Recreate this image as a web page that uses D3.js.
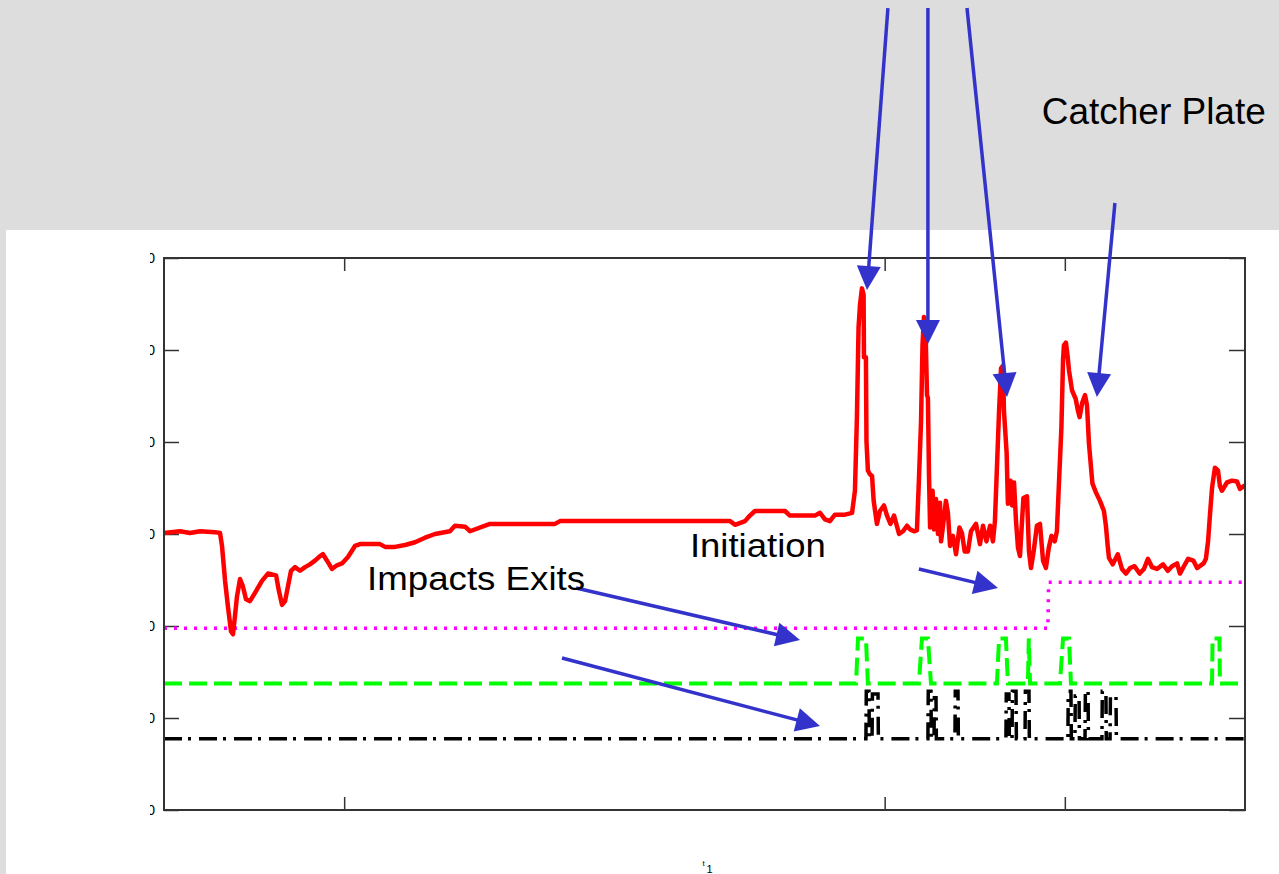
<!DOCTYPE html>
<html>
<head>
<meta charset="utf-8">
<script src="https://cdn.jsdelivr.net/npm/d3@7"></script>
<style>
  body { margin: 0; background: #dddddd; }
  svg { display: block; font-family: "Liberation Sans", Arial, sans-serif; }
</style>
</head>
<body>
<script>
// signal traces (x: time units, y: amplitude units)
var redSignal = [
  [0,30.1],[0.89,30.3],[1.44,30.1],[2.0,30.3],[2.83,30.2],[3.11,30.1],[3.22,28.7],[3.39,24.9],
  [3.55,22.1],[3.72,19.4],[3.83,19.1],[3.94,21.1],[4.05,23.2],[4.22,25.1],[4.38,24.3],[4.55,22.9],
  [4.77,22.7],[5.05,23.6],[5.44,24.9],[5.77,25.7],[6.22,25.5],[6.38,23.8],[6.55,22.3],[6.72,22.7],
  [6.88,24.3],[7.05,26.0],[7.27,26.4],[7.55,26.0],[7.83,26.4],[8.1,26.7],[8.38,27.1],[8.66,27.6],
  [8.82,27.8],[9.05,27.1],[9.32,26.2],[9.6,26.6],[9.88,26.8],[10.21,27.5],[10.6,28.7],[10.88,28.9],
  [11.99,28.9],[12.27,28.6],[12.82,28.6],[13.38,28.8],[13.93,29.1],[14.49,29.6],[15.04,30.0],
  [15.87,30.3],[16.15,30.9],[16.71,30.8],[16.98,30.3],[18.09,31.1],[21.7,31.1],[21.98,31.4],
  [31.42,31.4],[31.69,31.0],[32.25,31.4],[32.52,32.0],[32.8,32.5],[34.47,32.5],[34.74,32.0],
  [36.13,32.0],[36.41,32.3],[36.69,31.6],[36.96,31.4],[37.24,32.1],[37.8,32.1],[38.19,32.3],
  [38.35,34.7],[38.46,42.7],[38.55,52.4],[38.63,54.9],[38.74,56.7],[38.83,56.0],[38.85,49.2],
  [38.96,49.2],[38.99,40.1],[39.07,36.9],[39.18,36.5],[39.3,36.3],[39.39,33.6],[39.57,31.1],
  [39.74,32.5],[39.96,33.1],[40.13,32.0],[40.32,31.1],[40.52,32.0],[40.8,30.0],[41.02,30.3],
  [41.24,30.9],[41.41,30.5],[41.63,30.3],[41.79,30.4],[41.9,35.8],[42.02,42.3],[42.1,50.5],
  [42.18,53.6],[42.27,52.1],[42.35,45.1],[42.4,44.8],[42.46,36.5],[42.52,30.7],[42.66,34.7],
  [42.74,30.5],[42.85,33.8],[42.96,30.0],[43.07,33.4],[43.13,29.2],[43.24,30.9],[43.4,33.6],
  [43.51,32.3],[43.63,28.7],[43.79,29.8],[43.96,27.8],[44.15,30.7],[44.29,30.1],[44.44,28.1],
  [44.62,28.1],[44.79,30.3],[45.07,31.1],[45.29,28.9],[45.46,30.9],[45.65,29.2],[45.85,30.9],
  [46.01,29.2],[46.12,31.4],[46.21,36.1],[46.35,43.4],[46.46,48.0],[46.57,48.3],[46.62,43.4],
  [46.77,38.8],[46.84,33.3],[46.99,35.8],[47.07,33.1],[47.18,35.6],[47.29,31.4],[47.4,28.5],
  [47.51,27.6],[47.7,33.9],[47.9,34.1],[47.95,31.4],[48.01,28.1],[48.12,26.3],[48.27,28.1],
  [48.45,30.9],[48.62,31.1],[48.79,27.1],[48.95,26.3],[49.11,28.5],[49.26,29.8],[49.44,29.2],
  [49.56,30.3],[49.68,35.8],[49.81,41.6],[49.9,48.9],[49.95,50.5],[50.06,50.8],[50.15,49.4],
  [50.23,47.8],[50.4,45.6],[50.6,44.7],[50.73,43.4],[50.82,42.7],[50.97,44.3],[51.12,45.1],
  [51.23,44.0],[51.34,39.8],[51.53,35.5],[51.73,34.5],[51.95,33.6],[52.17,32.5],[52.28,30.9],
  [52.38,28.7],[52.45,27.4],[52.66,26.7],[52.94,27.8],[53.17,26.2],[53.39,25.7],[53.62,26.3],
  [53.87,26.5],[54.15,25.7],[54.39,26.2],[54.61,27.3],[54.84,26.4],[55.11,26.2],[55.45,26.7],
  [55.72,26.0],[55.95,26.5],[56.23,26.8],[56.39,25.7],[56.61,26.5],[56.84,27.3],[57.14,27.1],
  [57.34,26.3],[57.7,26.8],[57.83,27.3],[57.95,29.2],[58.06,32.2],[58.17,35.0],[58.33,37.2],
  [58.5,36.9],[58.61,35.2],[58.72,34.7],[59.0,35.6],[59.28,35.8],[59.56,35.7],[59.72,34.9],[60,35.3]
];

var magentaSignal = [[0,19.75],[49.06,19.75],[49.1,24.75],[60,24.75]];

var greenSignal = [
  [0,13.75],[38.41,13.75],[38.52,18.65],[38.96,18.65],[39.07,13.75],
  [41.9,13.75],[42.07,18.65],[42.4,18.65],[42.57,13.75],
  [46.23,13.75],[46.35,18.65],[46.73,18.65],[46.84,13.75],
  [47.95,13.75],[48.0,18.65],[48.07,13.75],
  [49.73,13.75],[49.9,18.65],[50.23,18.65],[50.34,13.75],
  [58.17,13.75],[58.2,18.65],[58.58,18.65],[58.61,13.75],[60,13.75]
];

var blackSignal = [
  [0,7.75],[38.96,7.75],[38.98,12.9],[39.13,12.9],[39.15,7.75],[39.3,7.75],[39.32,12.6],[39.63,12.6],
  [39.65,7.75],
  [42.4,7.75],[42.42,12.9],[42.57,12.9],[42.59,7.75],[42.74,7.75],[42.76,12.2],[42.85,12.2],[42.87,7.75],
  [43.9,7.75],[43.92,12.9],[44.07,12.9],[44.09,7.75],
  [46.73,7.75],[46.75,12.6],[46.9,12.6],[46.92,7.75],[47.07,7.75],[47.09,12.9],[47.29,12.9],[47.31,7.75],
  [47.79,7.75],[47.81,12.9],[48.01,12.9],[48.03,7.75],
  [50.17,7.75],[50.19,12.9],[50.34,12.9],[50.36,7.75],[50.56,7.75],[50.58,12.4],[50.79,12.4],[50.81,7.75],
  [51.12,7.75],[51.14,12.9],[51.29,12.9],[51.31,7.75],
  [52.06,7.75],[52.08,12.9],[52.28,12.9],[52.3,7.75],[52.51,7.75],[52.53,12.3],[52.84,12.3],[52.86,7.75],
  [60,7.75]
];

var yTicks = [0, 10, 20, 30, 40, 50, 60];
var xTicks = [10, 40, 50];
var yTickLabels = ["0", "0", "0", "0", "0", "0", "0"];

// annotations: text + arrow [tail, tip] in data units
var labels = [
  {text: "Catcher Plate", x: 48.72, y: 74.6, size: 36, len: 224},
  {text: "Initiation", x: 29.19, y: 27.5, size: 33, len: 136},
  {text: "Impacts Exits", x: 11.27, y: 23.9, size: 33, len: 218}
];
var arrows = [
  [[40.18, 87.17], [39.02, 56.52]],
  [[42.4, 87.17], [42.4, 50.65]],
  [[44.57, 87.17], [46.79, 44.89]],
  [[52.78, 65.98], [51.78, 44.89]],
  [[41.9, 26.2], [46.29, 24.13]],
  [[22.87, 24.13], [35.3, 18.48]],
  [[22.09, 16.52], [36.41, 9.13]]
];

var W = 1279, H = 874
var margin = {left: 164, top: 258}
var width = 1081, height = 552

var svg = d3.select("body").append("svg")
    .attr("width", W)
    .attr("height", H)

svg.append("rect")
    .attr("width", W).attr("height", H)
    .attr("fill", "#dddddd")

svg.append("rect")
    .attr("x", 6).attr("y", 230)
    .attr("width", W - 6).attr("height", H - 230)
    .attr("fill", "#ffffff")

var g = svg.append("g")
    .attr("transform", "translate(" + margin.left + "," + margin.top + ")")

var x = d3.scaleLinear().domain([0, 60]).range([0, width])
var y = d3.scaleLinear().domain([0, 60]).range([height, 0])

svg.append("clipPath").attr("id", "labelclip")
  .append("rect").attr("x", -14).attr("y", -20).attr("width", width + 40).attr("height", height + 40)

// axes, ticks pointing inward
g.append("g")
    .attr("clip-path", "url(#labelclip)")
    .call(d3.axisLeft(y).tickValues(yTicks).tickSize(-15).tickPadding(9)
      .tickFormat(function(d, i){ return yTickLabels[i] }))
    .call(function(a){
      a.select(".domain").remove()
      a.selectAll("line").attr("stroke", "#333").attr("stroke-width", 1.5)
      a.selectAll("text").attr("font-size", 14).attr("fill", "#000")
        .attr("font-family", "Liberation Sans, Arial, sans-serif")
    })

g.append("g")
    .attr("transform", "translate(" + width + ",0)")
    .call(d3.axisRight(y).tickValues(yTicks).tickSize(-16).tickFormat(""))
    .call(function(a){
      a.select(".domain").remove()
      a.selectAll("line").attr("stroke", "#333").attr("stroke-width", 1.5)
    })

g.append("g")
    .attr("transform", "translate(0," + height + ")")
    .call(d3.axisBottom(x).tickValues(xTicks).tickSize(-13).tickFormat(""))
    .call(function(a){
      a.select(".domain").remove()
      a.selectAll("line").attr("stroke", "#333").attr("stroke-width", 1.5)
    })

g.append("g")
    .call(d3.axisTop(x).tickValues(xTicks).tickSize(-13).tickFormat(""))
    .call(function(a){
      a.select(".domain").remove()
      a.selectAll("line").attr("stroke", "#333").attr("stroke-width", 1.5)
    })

var line = d3.line()
    .x(function(d){ return x(d[0]) })
    .y(function(d){ return y(d[1]) })

g.append("path").datum(blackSignal)
    .attr("d", line).attr("fill", "none")
    .attr("stroke", "#000").attr("stroke-width", 3.5)
    .attr("stroke-dasharray", "18,6,3,8")

g.append("path").datum(greenSignal)
    .attr("d", line).attr("fill", "none")
    .attr("stroke", "#00ff00").attr("stroke-width", 4)
    .attr("stroke-dasharray", "18,7")

g.append("path").datum(magentaSignal)
    .attr("d", line).attr("fill", "none")
    .attr("stroke", "#ff00ff").attr("stroke-width", 3.5)
    .attr("stroke-dasharray", "3,7")

g.append("path").datum(redSignal)
    .attr("d", line).attr("fill", "none")
    .attr("stroke", "#ff0000").attr("stroke-width", 4.5)
    .attr("stroke-linejoin", "round")

// frame
g.append("rect")
    .attr("width", width).attr("height", height)
    .attr("fill", "none").attr("stroke", "#333").attr("stroke-width", 2)

// clipped axis label at the bottom
g.append("text").attr("x", x(30) - 2).attr("y", height + 56)
    .attr("font-size", 8).text("t")
g.append("text").attr("x", x(30) + 2).attr("y", height + 63)
    .attr("font-size", 11).text("1")

// arrows
var headLen = 24, headW = 12
arrows.forEach(function(a){
  var x0 = x(a[0][0]), y0 = y(a[0][1]), x1 = x(a[1][0]), y1 = y(a[1][1])
  var dx = x1 - x0, dy = y1 - y0, L = Math.sqrt(dx*dx + dy*dy)
  var ux = dx / L, uy = dy / L
  var bx = x1 - ux * headLen, by = y1 - uy * headLen
  g.append("line")
      .attr("x1", x0).attr("y1", y0).attr("x2", bx + ux * 2).attr("y2", by + uy * 2)
      .attr("stroke", "#3333cc").attr("stroke-width", 3.5)
  g.append("path")
      .attr("d", "M" + x1 + "," + y1 +
        "L" + (bx - uy * headW) + "," + (by + ux * headW) +
        "L" + (bx + uy * headW) + "," + (by - ux * headW) + "Z")
      .attr("fill", "#3333cc")
})

g.selectAll(".note").data(labels).enter()
  .append("text")
    .attr("class", "note")
    .attr("x", function(d){ return x(d.x) })
    .attr("y", function(d){ return y(d.y) })
    .attr("font-size", function(d){ return d.size })
    .attr("textLength", function(d){ return d.len })
    .attr("lengthAdjust", "spacingAndGlyphs")
    .attr("fill", "#000")
    .text(function(d){ return d.text })
</script>
</body>
</html>
